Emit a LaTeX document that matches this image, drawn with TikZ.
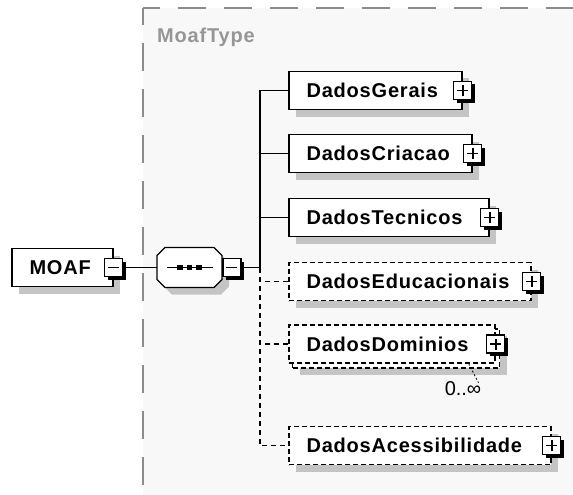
\documentclass[tikz,border=0pt]{standalone}
\usepackage{fontspec}
\newfontfamily\lblfont{Liberation Sans}[LetterSpace=4]
\newfontfamily\plainfont{Liberation Sans}
\usetikzlibrary{shadows,calc}
\definecolor{shadowgray}{HTML}{C4C4C4}
\definecolor{framebg}{HTML}{F8F8F8}
\definecolor{framegray}{HTML}{8C8C8C}
\definecolor{typegray}{HTML}{969696}
\tikzset{
  boxshadow/.style={drop shadow={shadow xshift=7pt, shadow yshift=-7pt, fill=shadowgray, opacity=1}},
  elembase/.style={draw=black, line width=1.3pt, fill=white, inner sep=0pt, minimum height=38pt},
  elem/.style={elembase, boxshadow},
  optelem/.style={elembase, boxshadow, dash pattern=on 5pt off 3pt},
  optfront/.style={elembase, dash pattern=on 5pt off 3pt},
  lbl/.style={font=\lblfont\bfseries\fontsize{20}{24}\selectfont, inner sep=0pt, text height=14.3pt, text depth=0pt, anchor=west},
  ctrl/.style={draw=black, line width=1.3pt, fill=white, minimum size=18pt, inner sep=0pt,
    drop shadow={shadow xshift=3pt, shadow yshift=-3pt, fill=black, opacity=1}},
  plusbox/.style={ctrl, path picture={
      \draw[line width=1.7pt] ([xshift=3.5pt]path picture bounding box.west) -- ([xshift=-3.5pt]path picture bounding box.east);
      \draw[line width=1.7pt] ([yshift=-3.5pt]path picture bounding box.north) -- ([yshift=3.5pt]path picture bounding box.south);}},
  minusbox/.style={ctrl, path picture={
      \draw[line width=1.7pt] ([xshift=3.5pt]path picture bounding box.west) -- ([xshift=-3.5pt]path picture bounding box.east);}},
  conn/.style={draw=black, line width=1.5pt},
  dconn/.style={draw=black, line width=1.5pt, dash pattern=on 5pt off 4pt},
  framedash/.style={draw=framegray, line width=1.2pt, dash pattern=on 28pt off 18pt, dash phase=11pt},
}
\begin{document}
\begin{tikzpicture}[x=1pt, y=-1pt]
\useasboundingbox (0,0) rectangle (573,495);
% outer type frame
\fill[framebg] (143,8) rectangle (573,495);
\draw[framedash] (143,8) -- (573,8);
\draw[framedash] (143,8) -- (143,495);
\node[lbl, text=typegray] (type) at (157,35) {MoafType};

% root element
\node[elem, minimum width=101pt] (moaf) at (62.5,267.5) {};
\node[lbl] (moaf-t) at ([xshift=18pt]moaf.west) {MOAF};
\node[minusbox] (moaf-m) at (moaf.east) {};

% sequence compositor
\node[inner sep=0pt, minimum width=65pt, minimum height=40pt] (seq) at (189.5,267.5) {};
\draw[line width=1.3pt, fill=white, boxshadow]
  (165,247.5) -- (214,247.5) -- (222,255.5) -- (222,279.5) -- (214,287.5) -- (165,287.5) -- (157,279.5) -- (157,255.5) -- cycle;
\draw[line width=1.3pt] (167,267.5) -- (213,267.5);
\fill (177.25,264.75) rectangle +(5.5,5.5);
\fill (186.75,264.75) rectangle +(5.5,5.5);
\fill (196.25,264.75) rectangle +(5.5,5.5);
\node[minusbox, anchor=west] (seq-m) at (seq.east) {};

% child elements
\node[elem, minimum width=173pt] (gerais) at (375.5,90.5) {};
\node[lbl] (gerais-t) at ([xshift=18pt]gerais.west) {DadosGerais};
\node[plusbox] (gerais-p) at (gerais.east) {};

\node[elem, minimum width=183pt] (criacao) at (380.5,153.5) {};
\node[lbl] (criacao-t) at ([xshift=18pt]criacao.west) {DadosCriacao};
\node[plusbox] (criacao-p) at (criacao.east) {};

\node[elem, minimum width=200pt] (tecnicos) at (389,217.5) {};
\node[lbl] (tecnicos-t) at ([xshift=18pt]tecnicos.west) {DadosTecnicos};
\node[plusbox] (tecnicos-p) at (tecnicos.east) {};

\node[optelem, minimum width=242pt] (educ) at (410,281.5) {};
\node[lbl] (educ-t) at ([xshift=18pt]educ.west) {DadosEducacionais};
\node[plusbox] (educ-p) at (educ.east) {};

\node[optelem, minimum width=207pt, minimum height=39pt] (dom-b) at (396,348.5) {};
\node[optfront, minimum width=206pt] (dom) at (392,344) {};
\node[lbl] (dom-t) at ([xshift=18pt]dom.west) {DadosDominios};
\node[plusbox] (dom-p) at (dom.east) {};
\node[font=\plainfont\fontsize{20}{24}\selectfont, inner sep=0pt] (card) at (463,389) {0..∞};
\draw[line width=0.8pt, dash pattern=on 2pt off 2pt] ([xshift=-27pt]dom.south east) -- ([xshift=-3pt,yshift=-1pt]card.north east);

\node[optelem, minimum width=262pt] (acess) at (420,445.5) {};
\node[lbl] (acess-t) at ([xshift=18pt]acess.west) {DadosAcessibilidade};
\node[plusbox] (acess-p) at (acess.east) {};

% connectors
\coordinate (hub) at (260,267.5);
\draw[conn] (moaf-m.east) -- (seq.west);
\draw[conn] (seq-m.east) -- (hub);
\draw[conn] (gerais.west) -| (hub);
\draw[conn] (criacao.west) -- (criacao.west -| hub);
\draw[conn] (tecnicos.west) -- (tecnicos.west -| hub);
\draw[dconn] (hub) |- (acess.west);
\draw[dconn] (educ.west) -- (educ.west -| hub);
\draw[dconn] (dom.west) -- (dom.west -| hub);
\end{tikzpicture}
\end{document}
